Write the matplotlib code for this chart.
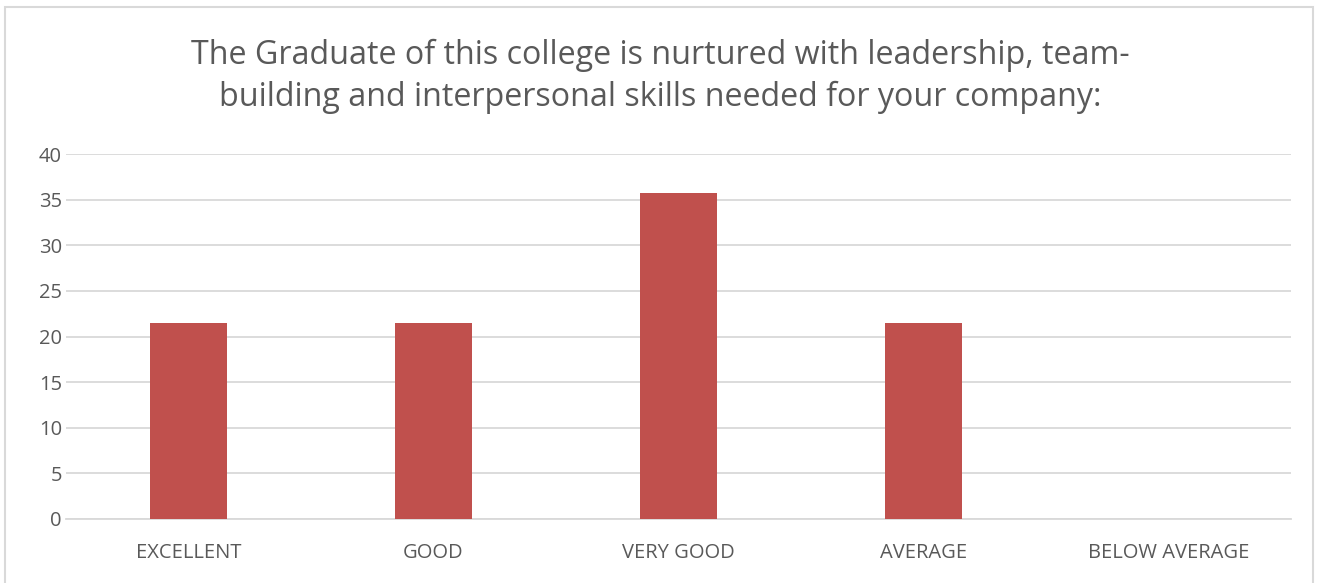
import matplotlib.pyplot as plt
from matplotlib.patches import Rectangle

categories = ["EXCELLENT", "GOOD", "VERY GOOD", "AVERAGE", "BELOW AVERAGE"]
values = [21.43, 21.43, 35.71, 21.43, 0]
yticks = [0, 5, 10, 15, 20, 25, 30, 35, 40]

title = ("The Graduate of this college is nurtured with leadership, team-\n"
         "building and interpersonal skills needed for your company:")

plt.rcParams['font.family'] = ['Open Sans', 'DejaVu Sans']

fig = plt.figure(figsize=(13.2, 5.83), dpi=100)
ax = fig.add_axes([0.05, 0.1098, 0.928, 0.626])

# light grey chart-area border
fig.patches.append(Rectangle((5 / 1320, -0.05), 1308 / 1320, 1.05 - 7 / 583,
                             transform=fig.transFigure, fill=False,
                             edgecolor="#d9d9d9", linewidth=1.5))

x = list(range(len(categories)))
ax.bar(x, values, width=0.315, color="#c0504d", zorder=3)

ax.set_xlim(-0.5, len(categories) - 0.5)
ax.set_ylim(0, 40)
ax.set_yticks(yticks)
ax.set_xticks(x)
ax.set_xticklabels(categories)
ax.yaxis.grid(True, color="#d9d9d9", linewidth=1.3, zorder=0)
for s in ["top", "right", "left"]:
    ax.spines[s].set_visible(False)
ax.spines["bottom"].set_color("#d9d9d9")
ax.spines["bottom"].set_linewidth(1.3)
ax.tick_params(length=0, labelsize=14.5, colors="#595959")
ax.tick_params(axis="x", pad=17)
ax.tick_params(axis="y", pad=3)

fig.text(0.5, 0.869, title, ha="center", va="center", fontsize=23.2,
         color="#595959", linespacing=1.32)

fig.savefig("out.png", dpi=100, facecolor="white")
